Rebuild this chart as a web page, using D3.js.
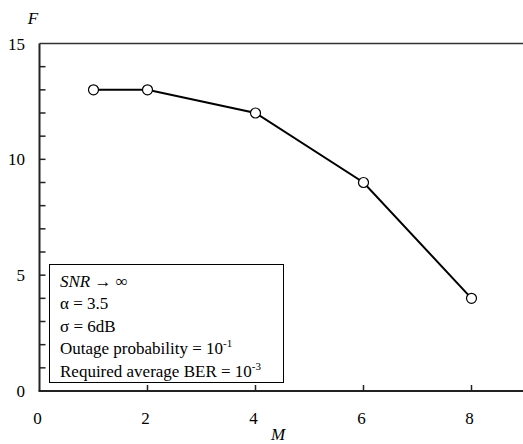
<!DOCTYPE html>
<html><head><meta charset="utf-8">
<script src="https://cdn.jsdelivr.net/npm/d3@7"></script>
<style>
html,body{margin:0;padding:0;background:#fff;}
svg{display:block;}
text{font-family:"Liberation Serif","DejaVu Serif",serif;fill:#000;}
</style></head>
<body>
<svg id="chart" width="523" height="444"></svg>
<script>
const mValues = [1, 2, 4, 6, 8];
const fValues = [13, 13, 12, 9, 4];
const xTicks = [0, 2, 4, 6, 8];
const yTicks = [0, 5, 10, 15];
const yMinorTicks = d3.range(0, 16, 1);
const legendLines = [
  {parts:[{t:"SNR", it:true},{t:" \u2192 \u221E"}]},
  {parts:[{t:"\u03B1 = 3.5"}]},
  {parts:[{t:"\u03C3  = 6dB"}]},
  {parts:[{t:"Outage probability = 10"},{t:"-1", sup:true}]},
  {parts:[{t:"Required average BER = 10"},{t:"-3", sup:true}]}
];

const svg = d3.select("#chart");
const pL = 39.5, pT = 43.5, pB = 391, pR = 523;
const x = d3.scaleLinear().domain([0, 9]).range([pL, pL + 54*9]);
const y = d3.scaleLinear().domain([0, 15]).range([pB, pT]);

// frame: left, bottom, top lines
svg.append("line").attr("x1", pL).attr("x2", pR).attr("y1", pT).attr("y2", pT)
  .attr("stroke", "#333").attr("stroke-width", 1.5);
svg.append("line").attr("x1", pL).attr("x2", pL).attr("y1", pT).attr("y2", pB)
  .attr("stroke", "#222").attr("stroke-width", 2);
svg.append("line").attr("x1", pL - 1).attr("x2", pR).attr("y1", pB).attr("y2", pB)
  .attr("stroke", "#222").attr("stroke-width", 2);

// y ticks (inside)
svg.append("g").selectAll("line").data(yMinorTicks.filter(d => d > 0 && d < 15)).join("line")
  .attr("x1", pL).attr("x2", pL + 6)
  .attr("y1", d => y(d)).attr("y2", d => y(d))
  .attr("stroke", "#222").attr("stroke-width", 1.5);
svg.append("g").selectAll("text").data(yTicks).join("text")
  .attr("x", 25).attr("y", d => y(d) + 6)
  .attr("text-anchor", "end").attr("font-size", 17).text(d => d);

// x ticks (inside)
svg.append("g").selectAll("line").data(xTicks.filter(d => d > 0)).join("line")
  .attr("x1", d => x(d)).attr("x2", d => x(d))
  .attr("y1", pB).attr("y2", pB - 6)
  .attr("stroke", "#222").attr("stroke-width", 1.5);
svg.append("g").selectAll("text").data(xTicks).join("text")
  .attr("x", d => x(d) - 2).attr("y", 424)
  .attr("text-anchor", "middle").attr("font-size", 17).text(d => d);

// axis titles
svg.append("text").attr("x", 278).attr("y", 440).attr("text-anchor", "middle")
  .attr("font-size", 17).attr("font-style", "italic").text("M");
svg.append("text").attr("x", 33).attr("y", 24).attr("text-anchor", "middle")
  .attr("font-size", 17).attr("font-style", "italic").text("F");

// data line
const line = d3.line().x((d, i) => x(mValues[i])).y(d => y(d));
svg.append("path").datum(fValues).attr("d", line)
  .attr("fill", "none").attr("stroke", "#000").attr("stroke-width", 2);
svg.append("g").selectAll("circle").data(fValues).join("circle")
  .attr("cx", (d, i) => x(mValues[i])).attr("cy", d => y(d)).attr("r", 5)
  .attr("fill", "#fff").attr("stroke", "#000").attr("stroke-width", 1.2);

// legend box
svg.append("rect").attr("x", 49.5).attr("y", 264.5).attr("width", 234).attr("height", 118)
  .attr("fill", "#fff").attr("stroke", "#000").attr("stroke-width", 1);
const lg = svg.append("g");
legendLines.forEach((ln, i) => {
  const t = lg.append("text").attr("x", 60).attr("y", 287 + i * 22.4).attr("font-size", 17);
  ln.parts.forEach(p => {
    const ts = t.append("tspan").text(p.t);
    if (p.it) ts.attr("font-style", "italic");
    if (p.sup) ts.attr("font-size", 11).attr("dy", -7);
  });
});
</script>
</body></html>
